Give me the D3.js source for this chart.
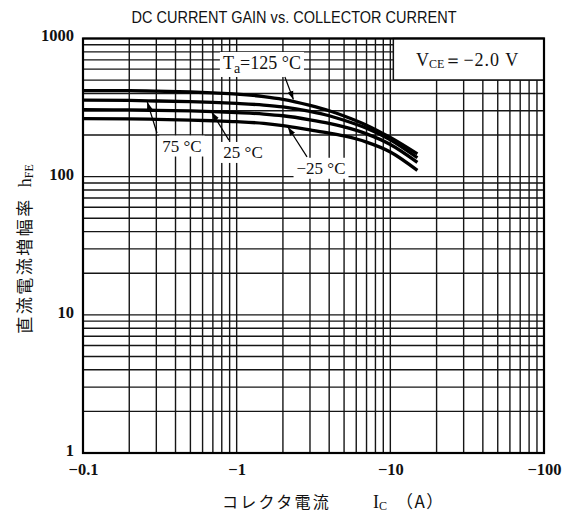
<!DOCTYPE html>
<html><head><meta charset="utf-8">
<script src="https://cdn.jsdelivr.net/npm/d3@7"></script>
<style>body{margin:0;background:#fff}svg{display:block}</style>
</head><body><svg id="c" width="566" height="512"></svg>
<script>
// ---- data ----
const currents = [0.1, 0.2, 0.3, 0.5, 0.7, 1, 1.5, 2, 3, 4, 5, 7, 10, 15];
const gain125 = [420, 419, 416, 410, 404, 396, 380, 363, 328, 300, 275, 236, 192, 146];
const gain75  = [358, 356, 353, 349, 345, 339, 330, 320, 297, 276, 256, 224, 185, 137];
const gain25  = [305, 304, 302, 299, 296, 291, 284, 276, 258, 243, 229, 204, 171, 127];
const gainM25 = [263, 262, 260, 257, 254, 250, 243, 234, 218, 207, 197, 178, 151, 111];
const seriesNames = ["125", "75", "25", "-25"];
const xTickValues = [0.1, 1, 10, 100];
const xTickLabels = ["−0.1", "−1", "−10", "−100"];
const yTickValues = [1, 10, 100, 1000];
const yTickLabels = ["1", "10", "100", "1000"];
const titleText = "DC CURRENT GAIN vs. COLLECTOR CURRENT";
// annotations in data coordinates: label anchor, arrow start, arrow tip
const annLabels = ["T_a=125 °C", "75 °C", "25 °C", "−25 °C"];
const annText = [[1.46, 665], [0.44, 168], [1.10, 151], [3.54, 116]];
const annFrom = [[2.06, 526], [0.303, 207], [0.89, 184], [2.87, 139]];
const annTip  = [[2.34, 362], [0.262, 347], [0.69, 292], [2.16, 228]];

// ---- layout ----
const L = 83, R = 544, T = 38.5, B = 453;
const svg = d3.select("#c");
const x = d3.scaleLog().domain([0.1, 100]).range([L, R]);
const y = d3.scaleLog().domain([1, 1000]).range([B, T]);
const serif = "'Liberation Serif', 'Times New Roman', serif";
const cjk = "'Noto Sans CJK JP', sans-serif";

// grid values
const xGrid = [], yGrid = [];
[0.1, 1, 10].forEach(d => { for (let k = 1; k <= 9; k++) xGrid.push(+(d * k).toPrecision(3)); });
xGrid.push(100);
[1, 10, 100].forEach(d => { for (let k = 1; k <= 9; k++) yGrid.push(d * k); });
yGrid.push(1000);

const g = svg.append("g");
g.selectAll("line.vx").data(xGrid).join("line")
  .attr("x1", d => x(d)).attr("x2", d => x(d)).attr("y1", T).attr("y2", B)
  .attr("stroke", "#151515").attr("stroke-width", 1.4);
g.selectAll("line.hy").data(yGrid).join("line")
  .attr("y1", d => y(d)).attr("y2", d => y(d)).attr("x1", L).attr("x2", R)
  .attr("stroke", "#151515").attr("stroke-width", 1.4);

// legend box (VCE)
const boxX = x(10) + 3, boxY2 = 80;
svg.append("rect").attr("x", boxX).attr("y", T).attr("width", R - boxX).attr("height", boxY2 - T)
  .attr("fill", "#fff").attr("stroke", "#111").attr("stroke-width", 1.5);
const vce = svg.append("text").attr("x", (boxX + R) / 2 - 1).attr("y", 66)
  .attr("text-anchor", "middle").attr("font-family", serif).attr("font-size", 18).attr("fill", "#111");
vce.append("tspan").text("V");
vce.append("tspan").attr("font-size", 12).attr("dy", 2).text("CE");
vce.append("tspan").attr("dy", -2).attr("letter-spacing", 1).text("＝−2.0  V");

// annotation label backgrounds + text
const annG = svg.append("g");
annLabels.forEach((lab, i) => {
  const big = lab.startsWith("T_a");
  const t = annG.append("text").attr("x", x(annText[i][0])).attr("y", y(annText[i][1]) + 6)
    .attr("text-anchor", "middle").attr("font-family", serif).attr("font-size", big ? 18 : 17).attr("fill", "#111");
  if (big) {
    t.append("tspan").text("T");
    t.append("tspan").attr("font-size", 14).attr("dy", 4).text("a");
    t.append("tspan").attr("dy", -4).text("=125  °C");
  } else {
    t.text(lab.replace(" °C", "  °C"));
  }
  const bb = t.node().getBBox();
  annG.insert("rect", "text").attr("x", bb.x - 3).attr("y", bb.y - 1)
    .attr("width", bb.width + 6).attr("height", bb.height + 2).attr("fill", "#fff");
});

// curves
const allSeries = [gain125, gain75, gain25, gainM25];
const line = d3.line().x(d => x(d[0])).y(d => y(d[1])).curve(d3.curveMonotoneX);
svg.append("g").selectAll("path").data(allSeries).join("path")
  .attr("d", s => line(currents.map((c, i) => [c, s[i]])))
  .attr("fill", "none").attr("stroke", "#000").attr("stroke-width", 3.3);

// arrows
svg.append("defs").append("marker").attr("id", "ah").attr("viewBox", "0 0 10 10")
  .attr("refX", 10).attr("refY", 5).attr("markerWidth", 7).attr("markerHeight", 7)
  .attr("orient", "auto").append("path").attr("d", "M0,1.5 L10,5 L0,8.5 Z").attr("fill", "#000");
svg.append("g").selectAll("line").data(annFrom).join("line")
  .attr("x1", d => x(d[0])).attr("y1", d => y(d[1]))
  .attr("x2", (d, i) => x(annTip[i][0])).attr("y2", (d, i) => y(annTip[i][1]))
  .attr("stroke", "#000").attr("stroke-width", 1.2).attr("marker-end", "url(#ah)");

// plot border
svg.append("rect").attr("x", L).attr("y", T).attr("width", R - L).attr("height", B - T)
  .attr("fill", "none").attr("stroke", "#000").attr("stroke-width", 2.2);

// axes tick labels
const xAxis = d3.axisBottom(x).tickValues(xTickValues).tickSize(0)
  .tickFormat((d, i) => xTickLabels[i]);
const gx = svg.append("g").attr("transform", `translate(0,${B})`).call(xAxis);
gx.select(".domain").remove();
gx.selectAll("text").attr("font-family", serif).attr("font-size", 16.5).attr("font-weight", "bold")
  .attr("fill", "#111").attr("dy", "1.15em");

const yAxis = d3.axisLeft(y).tickValues(yTickValues).tickSize(0)
  .tickFormat((d, i) => yTickLabels[i]);
const gy = svg.append("g").attr("transform", `translate(${L - 6},0)`).call(yAxis);
gy.select(".domain").remove();
gy.selectAll("text").attr("font-family", serif).attr("font-size", 16.5).attr("font-weight", "bold")
  .attr("fill", "#111").attr("dy", "0.15em");

// title
svg.append("text").attr("x", 294).attr("y", 23).attr("text-anchor", "middle")
  .attr("font-family", "'Liberation Sans', Arial, sans-serif").attr("font-size", 16)
  .attr("textLength", 325).attr("lengthAdjust", "spacingAndGlyphs").attr("fill", "#111")
  .text(titleText);

// x axis title
const xTitleY = 508;
svg.append("text").attr("x", 222).attr("y", xTitleY).attr("font-family", cjk).attr("font-size", 16)
  .attr("letter-spacing", 2.3).attr("fill", "#111").text("コレクタ電流");
const xi = svg.append("text").attr("x", 373).attr("y", xTitleY).attr("font-family", serif)
  .attr("font-size", 18).attr("fill", "#111");
xi.append("tspan").text("I");
xi.append("tspan").attr("font-size", 12).attr("dy", 2).text("C");
svg.append("text").attr("x", 396).attr("y", xTitleY).attr("font-family", cjk).attr("font-size", 17)
  .attr("letter-spacing", 1.5).attr("fill", "#111").text("（A）");

// y axis title (rotated)
const yt = svg.append("text").attr("transform", "translate(31,249) rotate(-90)")
  .attr("text-anchor", "middle").attr("font-family", cjk).attr("font-size", 17).attr("fill", "#111");
yt.append("tspan").attr("letter-spacing", 2.5).text("直流電流増幅率");
yt.append("tspan").attr("font-family", serif).attr("font-size", 18).attr("dx", 10).text("h");
yt.append("tspan").attr("font-family", serif).attr("font-size", 12).attr("dy", 2).text("FE");
</script>
</body></html>
